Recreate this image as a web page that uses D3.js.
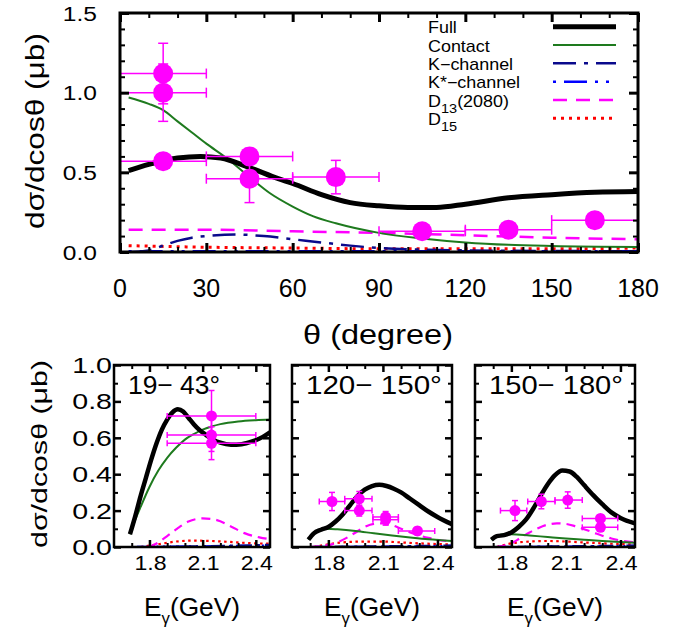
<!DOCTYPE html>
<html><head><meta charset="utf-8">
<script src="https://cdn.jsdelivr.net/npm/d3@7"></script>
<style>
body{margin:0;background:#fff}
svg{display:block}
text{font-family:"Liberation Sans",Arial,Helvetica,sans-serif;fill:#000}
</style>
</head><body>
<svg id="c" width="673" height="628"></svg>
<script>
// ---------------- DATA ----------------
// Top panel: angular distribution (theta in degrees)
const topXTicks = [0, 30, 60, 90, 120, 150, 180];
const topYTicks = [0.0, 0.5, 1.0, 1.5];
const topFull = [[3,0.51],[10,0.55],[20,0.59],[28,0.60],[35,0.59],[45,0.53],[55,0.46],[60,0.43],[70,0.36],[80,0.31],[90,0.29],[100,0.28],[110,0.28],[120,0.30],[135,0.34],[150,0.36],[165,0.375],[180,0.38]];
const topContact = [[3,0.97],[10,0.93],[15,0.89],[20,0.82],[25,0.75],[30,0.68],[37,0.59],[45,0.47],[52,0.37],[60,0.285],[67,0.225],[75,0.18],[90,0.12],[105,0.085],[120,0.06],[135,0.045],[150,0.038],[180,0.032]];
const topK = [[3,0.0],[10,0.01],[15,0.04],[20,0.07],[25,0.09],[30,0.10],[40,0.11],[50,0.10],[60,0.08],[70,0.06],[80,0.04],[90,0.025],[105,0.015],[120,0.01],[150,0.006],[180,0.005]];
const topKstar = [[3,0.004],[30,0.005],[60,0.004],[90,0.004],[120,0.004],[150,0.004],[180,0.004]];
const topD13 = [[3,0.14],[30,0.14],[60,0.13],[90,0.12],[120,0.105],[150,0.09],[180,0.08]];
const topD15 = [[3,0.04],[30,0.03],[60,0.025],[90,0.02],[120,0.02],[150,0.02],[180,0.025]];
const ptTheta   = [15, 15, 15, 45, 45, 75, 105, 135, 165];
const ptVal     = [1.12, 1.00, 0.57, 0.60, 0.46, 0.47, 0.13, 0.14, 0.20];
const ptErr     = [0.19, 0.18, 0.03, 0.05, 0.15, 0.105, 0.02, 0.02, 0.02];
const ptThetaLo = [0, 0, 0, 30, 30, 60, 90, 120, 150];
const ptThetaHi = [30, 30, 30, 60, 60, 90, 120, 150, 180];

// Legend
const legendNames = ["Full", "Contact", "K\u2212channel", "K*\u2212channel", "D13(2080)", "D15"];

// Bottom panels: energy dependence (E_gamma in GeV)
const botXTicks = [1.8, 2.1, 2.4];
const botYTicks = [0.0, 0.2, 0.4, 0.6, 0.8, 1.0];
const panelLabels = ["19\u2212 43\u00b0", "120\u2212 150\u00b0", "150\u2212 180\u00b0"];

const p1Full = [[1.69,0.07],[1.72,0.17],[1.75,0.28],[1.78,0.38],[1.81,0.48],[1.84,0.57],[1.87,0.645],[1.90,0.70],[1.93,0.74],[1.96,0.757],[1.99,0.745],[2.02,0.71],[2.05,0.675],[2.08,0.645],[2.12,0.615],[2.16,0.59],[2.20,0.573],[2.26,0.562],[2.32,0.565],[2.38,0.58],[2.44,0.605],[2.48,0.63]];
const p1Contact = [[1.69,0.07],[1.72,0.15],[1.75,0.22],[1.80,0.33],[1.85,0.42],[1.90,0.49],[1.95,0.545],[2.00,0.59],[2.05,0.62],[2.10,0.645],[2.15,0.662],[2.20,0.675],[2.30,0.69],[2.40,0.697],[2.48,0.70]];
const p1K = [[1.69,0.0],[2.0,0.003],[2.3,0.008],[2.48,0.012]];
const p1Kstar = [[1.69,0.0],[2.0,0.003],[2.48,0.008]];
const p1D13 = [[1.80,0.0],[1.85,0.025],[1.90,0.06],[1.955,0.10],[2.02,0.14],[2.10,0.157],[2.18,0.148],[2.265,0.11],[2.34,0.075],[2.42,0.053],[2.48,0.043]];
const p1D15 = [[1.75,0.0],[1.85,0.015],[1.95,0.03],[2.05,0.035],[2.15,0.033],[2.25,0.028],[2.35,0.022],[2.48,0.018]];
const p1E = [2.15, 2.15, 2.15];
const p1Val = [0.72, 0.615, 0.57];
const p1Err = [0.14, 0.09, 0.09];
const p1ELo = [1.9, 1.9, 1.9];
const p1EHi = [2.4, 2.4, 2.4];

const p2Full = [[1.69,0.04],[1.72,0.075],[1.76,0.095],[1.80,0.11],[1.84,0.14],[1.88,0.18],[1.92,0.23],[1.96,0.28],[2.00,0.315],[2.04,0.335],[2.08,0.342],[2.12,0.335],[2.16,0.32],[2.20,0.30],[2.25,0.265],[2.30,0.23],[2.35,0.195],[2.40,0.165],[2.48,0.125]];
const p2Contact = [[1.69,0.04],[1.72,0.075],[1.75,0.09],[1.79,0.10],[1.85,0.097],[1.95,0.088],[2.05,0.075],[2.15,0.063],[2.25,0.052],[2.35,0.042],[2.48,0.033]];
const p2K = [[1.69,0.0],[2.0,0.003],[2.48,0.008]];
const p2Kstar = [[1.69,0.0],[2.0,0.002],[2.48,0.006]];
const p2D13 = [[1.70,0.0],[1.80,0.01],[1.90,0.05],[1.95,0.08],[2.00,0.11],[2.05,0.127],[2.10,0.13],[2.15,0.12],[2.20,0.10],[2.25,0.08],[2.30,0.063],[2.35,0.05],[2.40,0.04],[2.48,0.03]];
const p2D15 = [[1.72,0.0],[1.80,0.015],[1.90,0.027],[2.00,0.03],[2.10,0.03],[2.20,0.025],[2.30,0.02],[2.48,0.014]];
const p2E = [1.82, 1.97, 1.97, 2.115, 2.115, 2.29];
const p2Val = [0.25, 0.265, 0.20, 0.165, 0.15, 0.088];
const p2Err = [0.05, 0.04, 0.03, 0.03, 0.03, 0.02];
const p2ELo = [1.75, 1.89, 1.89, 2.045, 2.045, 2.185];
const p2EHi = [1.89, 2.04, 2.04, 2.185, 2.185, 2.385];

const p3Full = [[1.69,0.04],[1.72,0.06],[1.76,0.065],[1.80,0.08],[1.84,0.11],[1.88,0.15],[1.92,0.21],[1.96,0.28],[2.00,0.345],[2.04,0.395],[2.08,0.42],[2.12,0.415],[2.16,0.385],[2.20,0.34],[2.25,0.285],[2.30,0.235],[2.35,0.19],[2.40,0.16],[2.48,0.13]];
const p3Contact = [[1.69,0.04],[1.72,0.06],[1.76,0.07],[1.80,0.07],[1.90,0.063],[2.00,0.055],[2.10,0.047],[2.20,0.04],[2.30,0.033],[2.40,0.027],[2.48,0.023]];
const p3K = [[1.69,0.0],[2.0,0.003],[2.48,0.008]];
const p3Kstar = [[1.69,0.0],[2.0,0.002],[2.48,0.006]];
const p3D13 = [[1.72,0.0],[1.80,0.02],[1.85,0.05],[1.90,0.08],[1.95,0.105],[2.00,0.123],[2.05,0.13],[2.10,0.127],[2.15,0.115],[2.20,0.098],[2.25,0.08],[2.30,0.062],[2.35,0.047],[2.40,0.036],[2.48,0.025]];
const p3D15 = [[1.72,0.0],[1.80,0.02],[1.90,0.03],[2.00,0.033],[2.10,0.03],[2.20,0.025],[2.30,0.02],[2.48,0.014]];
const p3E = [1.82, 1.965, 2.11, 2.29, 2.29];
const p3Val = [0.20, 0.25, 0.258, 0.157, 0.108];
const p3Err = [0.055, 0.04, 0.045, 0.02, 0.02];
const p3ELo = [1.74, 1.89, 2.04, 2.19, 2.19];
const p3EHi = [1.885, 2.04, 2.19, 2.385, 2.385];

// ---------------- STYLES ----------------
const MAG = "#ff00ff";
const styles = {
  full:    {stroke:"#000000", width:5,   dash:null},
  contact: {stroke:"#1e7a1e", width:2,   dash:null},
  k:       {stroke:"#0a0a8c", width:2.5, dash:"23,8,4,8"},
  kstar:   {stroke:"#0000ff", width:2.5, dash:"3,8,23,8,3,8"},
  d13:     {stroke:MAG,       width:2.5, dash:"14,9"},
  d15:     {stroke:"#ff0000", width:3,   dash:"3,5"}
};
const smallDash = {d13: "9,6", d15: "2.5,3.5", k: "14,5,3,5", kstar: "2,5,14,5,2,5"};
const legendKeys = ["full","contact","k","kstar","d13","d15"];

// ---------------- HELPERS ----------------
const svg = d3.select("#c");

function stext(parent, x, y, opts, build) {
  const g = parent.append("g");
  const t = g.append("text")
    .attr("font-size", opts.size)
    .attr("text-anchor", opts.anchor || "start");
  if (opts.baseline) t.attr("dominant-baseline", opts.baseline);
  build(t);
  let sx = opts.sx || 1;
  if (opts.width) {
    const w = t.node().getBBox().width;
    if (w > 0) sx = opts.width / w;
  }
  g.attr("transform", `translate(${x},${y}) rotate(${opts.rot || 0}) scale(${sx},1)`);
  return g;
}

function ticks(g, axisFn, scale, values, len, sw, transform) {
  g.append("g").attr("transform", transform)
    .call(axisFn(scale).tickValues(values).tickSize(-len).tickFormat(""))
    .call(a => a.select(".domain").remove())
    .call(a => a.selectAll("line").attr("stroke", "#000").attr("stroke-width", sw));
}

function drawCurve(g, data, key, x, y, small) {
  const s = styles[key];
  const line = d3.line().x(d => x(d[0])).y(d => y(d[1])).curve(d3.curveMonotoneX);
  g.append("path").datum(data).attr("d", line)
    .attr("fill", "none").attr("stroke", s.stroke)
    .attr("stroke-width", small ? (key === "full" ? 4.5 : key === "contact" ? 2 : 2.2) : s.width)
    .attr("stroke-dasharray", small ? (smallDash[key] || null) : s.dash)
    .attr("stroke-linejoin", "round");
}

function drawPoints(g, xs, vals, errs, xlo, xhi, x, y, r, cap, sw) {
  xs.forEach((xv, i) => {
    const cx = x(xv), cy = y(vals[i]);
    const y1 = y(vals[i] - errs[i]), y2 = y(vals[i] + errs[i]);
    const x1 = x(xlo[i]), x2 = x(xhi[i]);
    const eg = g.append("g").attr("stroke", MAG).attr("stroke-width", sw);
    eg.append("line").attr("x1", x1).attr("x2", x2).attr("y1", cy).attr("y2", cy);
    eg.append("line").attr("x1", x1).attr("x2", x1).attr("y1", cy - cap).attr("y2", cy + cap);
    eg.append("line").attr("x1", x2).attr("x2", x2).attr("y1", cy - cap).attr("y2", cy + cap);
    eg.append("line").attr("x1", cx).attr("x2", cx).attr("y1", y1).attr("y2", y2);
    eg.append("line").attr("x1", cx - cap).attr("x2", cx + cap).attr("y1", y1).attr("y2", y1);
    eg.append("line").attr("x1", cx - cap).attr("x2", cx + cap).attr("y1", y2).attr("y2", y2);
  });
  xs.forEach((xv, i) => {
    g.append("circle").attr("cx", x(xv)).attr("cy", y(vals[i])).attr("r", r).attr("fill", MAG);
  });
}

// ---------------- TOP PANEL ----------------
const TL = 120, TR = 638, TT = 13, TB = 252;
const xT = d3.scaleLinear().domain([0, 180]).range([TL, TR]);
const yT = d3.scaleLinear().domain([0, 1.5]).range([TB, TT]);

const topG = svg.append("g");
topG.append("clipPath").attr("id", "clipTop").append("rect")
  .attr("x", TL).attr("y", TT).attr("width", TR - TL).attr("height", TB - TT);
const topPlot = topG.append("g").attr("clip-path", "url(#clipTop)");

drawCurve(topPlot, topD15, "d15", xT, yT);
drawCurve(topPlot, topKstar, "kstar", xT, yT);
drawCurve(topPlot, topK, "k", xT, yT);
drawCurve(topPlot, topD13, "d13", xT, yT);
drawCurve(topPlot, topContact, "contact", xT, yT);
drawCurve(topPlot, topFull, "full", xT, yT);
drawPoints(topPlot, ptTheta, ptVal, ptErr, ptThetaLo, ptThetaHi, xT, yT, 10, 5, 1.5);

// ticks
const xMinorT = d3.range(0, 181, 10).filter(v => v % 30 !== 0);
const yMinorT = d3.range(0, 15.01, 1).map(v => v / 10).filter(v => Math.abs(v * 2 - Math.round(v * 2)) > 1e-6);
ticks(topG, d3.axisBottom, xT, xMinorT, 5, 2, `translate(0,${TB})`);
ticks(topG, d3.axisBottom, xT, topXTicks, 9, 3, `translate(0,${TB})`);
ticks(topG, d3.axisTop, xT, xMinorT, 5, 2, `translate(0,${TT})`);
ticks(topG, d3.axisTop, xT, topXTicks, 9, 3, `translate(0,${TT})`);
ticks(topG, d3.axisLeft, yT, yMinorT, 5, 2, `translate(${TL},0)`);
ticks(topG, d3.axisLeft, yT, topYTicks, 9, 3, `translate(${TL},0)`);
ticks(topG, d3.axisRight, yT, yMinorT, 5, 2, `translate(${TR},0)`);
ticks(topG, d3.axisRight, yT, topYTicks, 9, 3, `translate(${TR},0)`);
topG.append("rect").attr("x", TL).attr("y", TT).attr("width", TR - TL).attr("height", TB - TT)
  .attr("fill", "none").attr("stroke", "#000").attr("stroke-width", 3);

// tick labels
topXTicks.forEach(v => stext(topG, xT(v), 297, {size: 25, anchor: "middle"}, t => t.text(String(v))));
topYTicks.forEach(v => stext(topG, 97, yT(v) + 7.5, {size: 21, anchor: "end", sx: 1.17}, t => t.text(v.toFixed(1))));

// axis titles
stext(topG, 378, 344, {size: 28, anchor: "middle", width: 150}, t => t.text("\u03b8 (degree)"));
stext(topG, 44, 131, {size: 26, anchor: "middle", rot: -90, width: 196}, t => t.text("d\u03c3/dcos\u03b8 (\u03bcb)"));

// legend
const legY = [26.7, 45, 63.3, 81.7, 100, 118.3];
legendKeys.forEach((k, i) => {
  const s = styles[k];
  topG.append("line").attr("x1", 553).attr("x2", 616).attr("y1", legY[i]).attr("y2", legY[i])
    .attr("stroke", s.stroke).attr("stroke-width", k === "full" ? 5 : s.width)
    .attr("stroke-dasharray", s.dash);
  const name = legendNames[i];
  stext(topG, 428, legY[i] + 6.5, {size: 16, anchor: "start", sx: 1.12}, t => {
    if (k === "d13") {
      t.append("tspan").text("D");
      t.append("tspan").attr("font-size", 13).attr("dy", 6).text("13");
      t.append("tspan").attr("dy", -6).text("(2080)");
    } else if (k === "d15") {
      t.append("tspan").text("D");
      t.append("tspan").attr("font-size", 13).attr("dy", 6).text("15");
    } else {
      t.text(name);
    }
  });
});

// ---------------- BOTTOM PANELS ----------------
const BT = 365, BB = 547;
const yB = d3.scaleLinear().domain([0, 1]).range([BB, BT]);
const panels = [
  {left: 114, width: 156, full: p1Full, contact: p1Contact, k: p1K, kstar: p1Kstar, d13: p1D13, d15: p1D15,
   E: p1E, val: p1Val, err: p1Err, lo: p1ELo, hi: p1EHi, lab: panelLabels[0], labW: 92},
  {left: 292, width: 160, full: p2Full, contact: p2Contact, k: p2K, kstar: p2Kstar, d13: p2D13, d15: p2D15,
   E: p2E, val: p2Val, err: p2Err, lo: p2ELo, hi: p2EHi, lab: panelLabels[1], labW: 136},
  {left: 475, width: 160, full: p3Full, contact: p3Contact, k: p3K, kstar: p3Kstar, d13: p3D13, d15: p3D15,
   E: p3E, val: p3Val, err: p3Err, lo: p3ELo, hi: p3EHi, lab: panelLabels[2], labW: 134}
];
const xMinorB = [1.7, 1.9, 2.0, 2.2, 2.3];
const yMinorB = [0.1, 0.3, 0.5, 0.7, 0.9];

panels.forEach((p, pi) => {
  const L = p.left, R = p.left + p.width;
  const x = d3.scaleLinear().domain([1.6, 2.48]).range([L, R]);
  const g = svg.append("g");
  g.append("clipPath").attr("id", "clipB" + pi).append("rect")
    .attr("x", L).attr("y", BT).attr("width", R - L).attr("height", BB - BT);
  const pg = g.append("g").attr("clip-path", `url(#clipB${pi})`);
  drawCurve(pg, p.d15, "d15", x, yB, true);
  drawCurve(pg, p.kstar, "kstar", x, yB, true);
  drawCurve(pg, p.k, "k", x, yB, true);
  drawCurve(pg, p.d13, "d13", x, yB, true);
  drawCurve(pg, p.contact, "contact", x, yB, true);
  drawCurve(pg, p.full, "full", x, yB, true);
  drawPoints(pg, p.E, p.val, p.err, p.lo, p.hi, x, yB, 5.5, 3, 1.5);

  ticks(g, d3.axisBottom, x, xMinorB, 4, 2, `translate(0,${BB})`);
  ticks(g, d3.axisBottom, x, botXTicks, 7, 2.5, `translate(0,${BB})`);
  ticks(g, d3.axisTop, x, xMinorB, 4, 2, `translate(0,${BT})`);
  ticks(g, d3.axisTop, x, botXTicks, 7, 2.5, `translate(0,${BT})`);
  ticks(g, d3.axisLeft, yB, yMinorB, 4, 2, `translate(${L},0)`);
  ticks(g, d3.axisLeft, yB, botYTicks, 7, 2.5, `translate(${L},0)`);
  ticks(g, d3.axisRight, yB, yMinorB, 4, 2, `translate(${R},0)`);
  ticks(g, d3.axisRight, yB, botYTicks, 7, 2.5, `translate(${R},0)`);
  g.append("rect").attr("x", L).attr("y", BT).attr("width", R - L).attr("height", BB - BT)
    .attr("fill", "none").attr("stroke", "#000").attr("stroke-width", 2.5);

  botXTicks.forEach(v => stext(g, x(v) + 1, 570, {size: 21, anchor: "middle", sx: 1.1}, t => t.text(v.toFixed(1))));
  stext(g, L + 14, 394, {size: 26, anchor: "start", width: p.labW}, t => t.text(p.lab));
  stext(g, (L + R) / 2, 616, {size: 25, anchor: "middle", sx: 1.05}, t => {
    t.append("tspan").text("E");
    t.append("tspan").attr("font-size", 16).attr("dy", 8).text("\u03b3");
    t.append("tspan").attr("dy", -8).text("(GeV)");
  });
  if (pi === 0) {
    botYTicks.forEach(v => stext(g, 112, yB(v) + 8, {size: 22, anchor: "end", sx: 1.3}, t => t.text(v.toFixed(1))));
    stext(g, 40, 454, {size: 22, anchor: "middle", rot: -90, width: 188, baseline: "central"}, t => t.text("d\u03c3/dcos\u03b8 (\u03bcb)"));
  }
});
</script>
</body></html>
